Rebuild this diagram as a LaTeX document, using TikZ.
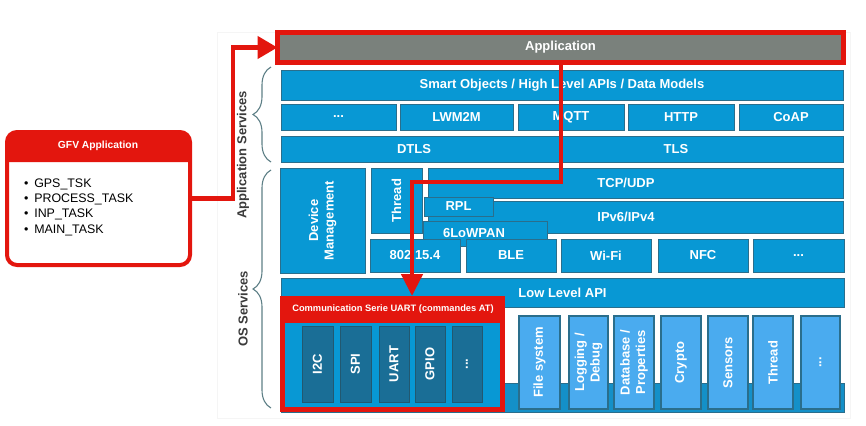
\documentclass[tikz,border=0pt]{standalone}
\usepackage{fontspec}
\setmainfont{Liberation Sans}
\usetikzlibrary{arrows.meta,decorations.pathreplacing}
\definecolor{mainblue}{HTML}{0898D4}
\definecolor{bordblue}{HTML}{2A6E8C}
\definecolor{lightblue}{HTML}{4AABEF}
\definecolor{tealbox}{HTML}{1A6E96}
\definecolor{barblue}{HTML}{1490C8}
\definecolor{appgray}{HTML}{7A817C}
\definecolor{myred}{HTML}{E3160E}
\definecolor{bracecol}{HTML}{5D7F86}
\definecolor{labcol}{HTML}{3A3A3A}
\newcommand{\boxH}[7]{%
  \pgfmathsetmacro\bxcx{(#3+#5)/2}\pgfmathsetmacro\bxcy{(#4+#6)/2}%
  \pgfmathsetmacro\bxw{#5-#3}\pgfmathsetmacro\bxh{#6-#4}%
  \node[#1, minimum width=\bxw pt, minimum height=\bxh pt] (#2) at (\bxcx,\bxcy) {#7};}
\newcommand{\boxV}[7]{%
  \pgfmathsetmacro\bxcx{(#3+#5)/2}\pgfmathsetmacro\bxcy{(#4+#6)/2}%
  \pgfmathsetmacro\bxw{#5-#3}\pgfmathsetmacro\bxh{#6-#4}%
  \node[#1, minimum width=\bxw pt, minimum height=\bxh pt] (#2) at (\bxcx,\bxcy) {};
  \node[vlab] (#2t) at (#2) {#7};}
\begin{document}
\begin{tikzpicture}[x=1pt,y=-1pt,
  every node/.style={inner sep=0pt, outer sep=0pt},
  wlab/.style={text=white, font=\fontsize{13}{15.5}\selectfont\bfseries},
  vlab/.style={wlab, rotate=90, align=center},
  blk/.style={wlab, fill=mainblue, draw=bordblue, line width=0.9pt},
  lbk/.style={fill=lightblue, draw=bordblue, line width=1.3pt},
  tbk/.style={fill=tealbox, draw=bordblue!80!black, line width=0.6pt},
  redline/.style={draw=myred, line width=4.5pt},
  brc/.style={draw=bracecol, line width=1.1pt, decorate, decoration={brace, amplitude=18pt}},
  sidelab/.style={text=labcol, rotate=90, font=\fontsize{13}{15}\selectfont\bfseries}]
\useasboundingbox (0,0) rectangle (866,425);
% faint panel
\draw[black!4, line width=0.6pt] (217,32) rectangle (850,418);

% Application
\boxH{blk, fill=appgray, draw=myred, line width=4.5pt}{app}{277.5}{32.5}{843.5}{62.5}{Application}

% application services
\boxH{blk}{smart}{281}{70}{843}{100}{Smart Objects / High Level APIs / Data Models}
\boxH{blk}{dots1}{281}{104}{396}{130}{...}
\boxH{blk}{lwm}{400}{104}{513}{130}{LWM2M}
\boxH{blk}{mqtt}{518}{104}{624}{130}{MQTT}
\boxH{blk}{http}{628}{104}{734}{130}{HTTP}
\boxH{blk}{coap}{739}{104}{843}{130}{CoAP}
\boxH{blk}{tlsbar}{281}{136}{843}{162}{}
\node[wlab] (dtls) at (414,149) {DTLS};
\node[wlab] (tls) at (676,149) {TLS};

% OS services
\boxV{blk}{dev}{280}{168}{365}{273}{Device\\Management}
\boxV{blk}{thr}{371}{168}{422}{233}{Thread}
\boxH{blk}{tcp}{428}{168}{843}{198}{}
\node[wlab] (tcpt) at (626,183) {TCP/UDP};
\boxH{blk}{ip}{428}{201}{843}{233}{}
\node[wlab] (ipt) at (626,217) {IPv6/IPv4};
\boxH{blk}{rpl}{424}{197}{493}{216}{RPL}
\boxH{blk}{lowpan}{423}{221}{547}{246}{}
\node[wlab] (lowpant) at (474,233.5) {6LoWPAN};
\boxH{blk}{ieee}{370}{239}{460}{272}{802.15.4}
\boxH{blk}{ble}{466}{239}{556}{272}{BLE}
\boxH{blk}{wifi}{561}{239}{651}{272}{Wi-Fi}
\boxH{blk}{nfc}{658}{239}{748}{272}{NFC}
\boxH{blk}{dots2}{753}{239}{844}{272}{...}
\boxH{blk}{lla}{281}{278}{844}{307}{Low Level API}

% bottom
\boxH{blk, fill=barblue}{bar}{281}{383}{844}{412}{}
\boxV{lbk}{fs}{519}{316}{560}{409}{File system}
\boxV{lbk}{log}{569}{316}{608}{409}{Logging /\\Debug}
\boxV{lbk}{db}{614}{316}{654}{409}{Database /\\Properties}
\boxV{lbk}{cry}{661}{316}{701}{409}{Crypto}
\boxV{lbk}{sen}{708}{316}{748}{409}{Sensors}
\boxV{lbk}{thr2}{753}{316}{793}{409}{Thread}
\boxV{lbk}{dots3}{801}{316}{840}{409}{...}

% communication box
\boxH{fill=myred}{comm}{280}{296}{505}{412}{}
\boxH{fill=mainblue}{commin}{285}{323}{500}{407}{}
\node[text=white, font=\fontsize{9.3}{11}\selectfont\bfseries] (commt) at (393,309) {Communication Serie UART (commandes AT)};
\boxV{tbk}{i2c}{302}{326}{333}{402}{I2C}
\boxV{tbk}{spi}{340}{326}{371}{402}{SPI}
\boxV{tbk}{uart}{379}{326}{409}{402}{UART}
\boxV{tbk}{gpio}{415}{326}{445}{402}{GPIO}
\boxV{tbk}{dots4}{452}{326}{482}{402}{...}

% braces and side labels
\draw[brc] (271,162) -- (271,67);
\draw[brc] (271,408) -- (271,170);
\node[sidelab] (aslab) at (243,155) {Application Services};
\node[sidelab] (oslab) at (243,309) {OS Services};

% GFV application box
\node[draw=myred, line width=4pt, rounded corners=10pt, fill=white, minimum width=183pt, minimum height=133pt] (gfv) at (98.5,198.5) {};
\fill[myred] (7,162) {[rounded corners=10pt] -- (7,132) -- (190,132)} -- (190,162) -- cycle;
\node[text=white, font=\fontsize{10.3}{12}\selectfont\bfseries] (gfvt) at (98,146) {GFV Application};
\node[anchor=north west, align=left, font=\fontsize{12.4}{15.3}\selectfont] (gfvl) at (24,178.5)
  {\textbullet\hspace{6pt}GPS\_TSK\\\textbullet\hspace{6pt}PROCESS\_TASK\\\textbullet\hspace{6pt}INP\_TASK\\\textbullet\hspace{6pt}MAIN\_TASK};

% red connectors
\coordinate (c1) at (233,198.5);
\draw[redline, -{Triangle[length=20pt,width=22pt]}] (gfv.east) -- (c1) |- (app.west);
\coordinate (c2) at (561,182);
\coordinate (c3) at (412,182);
\draw[redline, -{Triangle[length=22pt,width=21pt]}] (app.south -| c2) -- (c2) -- (c3) -- (c3 |- comm.north);
\end{tikzpicture}
\end{document}
